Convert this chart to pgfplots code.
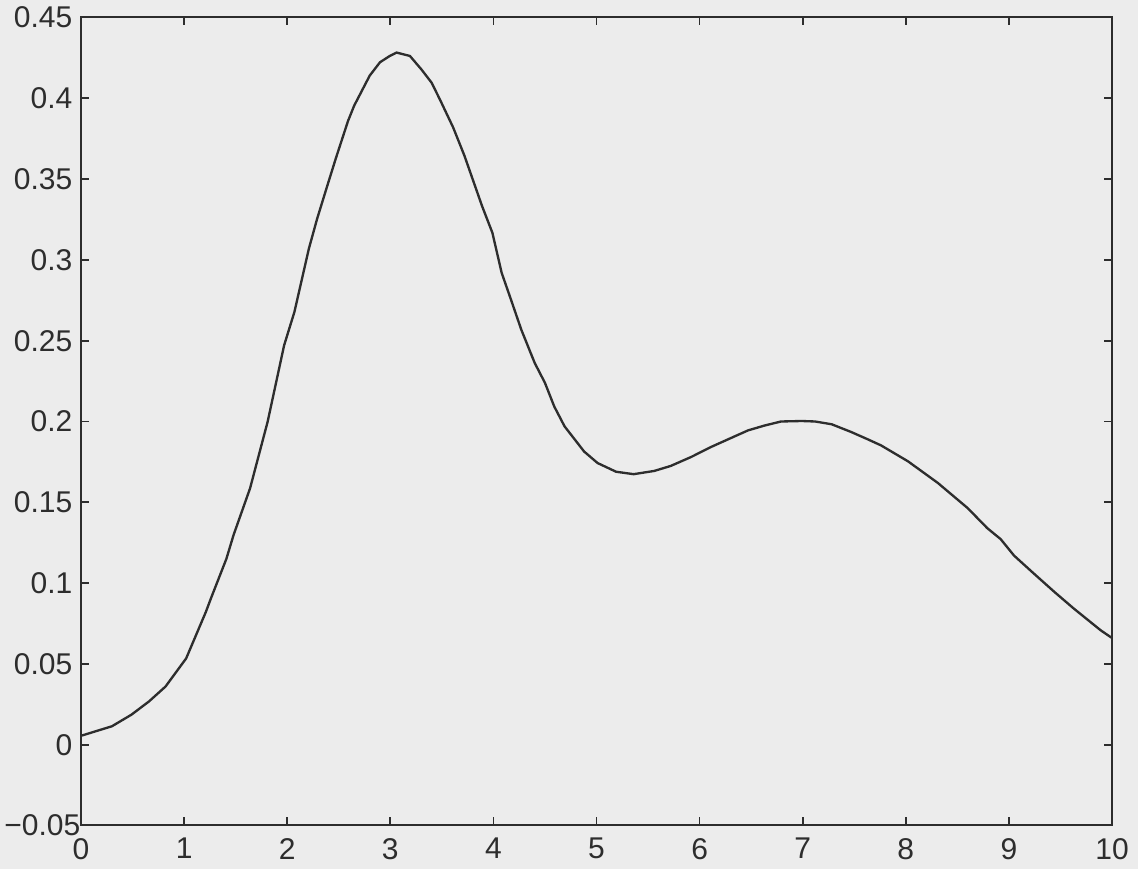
\documentclass[border=0pt]{standalone}
\usepackage{fontspec}
\setmainfont{Liberation Sans}
\usepackage{pgfplots}
\pgfplotsset{compat=1.18}
\usetikzlibrary{backgrounds,calc}

\definecolor{paper}{RGB}{236,236,236}
\definecolor{ink}{RGB}{45,45,45}

\begin{document}
\begin{tikzpicture}
\begin{axis}[
    scale only axis,
    width=309.3pt,
    height=242.4pt,
    xmin=0, xmax=10,
    ymin=-0.05, ymax=0.45,
    xtick={0,1,...,10},
    xticklabels={0,1,2,3,4,5,6,7,8,9,10},
    ytick={-0.05,0,0.05,0.1,0.15,0.2,0.25,0.3,0.35,0.4,0.45},
    yticklabels={−0.05\hspace*{-2.4pt},0,0.05,0.1,0.15,0.2,0.25,0.3,0.35,0.4,0.45},
    tick pos=both,
    tick align=inside,
    major tick length=2.4pt,
    axis line style={ink, line width=0.6pt},
    every tick/.style={ink, line width=0.5pt},
    tick label style={font=\fontsize{9}{10}\selectfont, text=ink, inner sep=0pt},
    yticklabel style={xshift=-2.4pt},
    xticklabel style={yshift=-3.6pt},
    axis background/.style={fill=paper},
]
% curve
\addplot[ink, line width=0.7pt] coordinates {
    (0.00,0.0055)(0.30,0.0114)(0.49,0.0186)(0.66,0.0268)(0.82,0.0360)
    (1.02,0.0534)(1.21,0.0820)(1.26,0.0905)(1.41,0.1150)(1.48,0.1298)
    (1.64,0.1587)(1.81,0.1998)(1.97,0.2471)(2.07,0.2678)(2.21,0.3069)
    (2.29,0.3254)(2.37,0.3420)(2.47,0.3625)(2.59,0.3860)(2.65,0.3955)
    (2.80,0.4140)(2.90,0.4223)(2.99,0.4260)(3.06,0.4283)(3.19,0.4262)
    (3.30,0.4180)(3.40,0.4097)(3.48,0.3994)(3.61,0.3819)(3.72,0.3643)
    (3.89,0.3333)(3.99,0.3168)(4.08,0.2920)(4.17,0.2755)(4.27,0.2569)
    (4.40,0.2363)(4.50,0.2239)(4.59,0.2093)(4.69,0.1970)(4.88,0.1814)
    (5.01,0.1743)(5.19,0.1689)(5.36,0.1674)(5.56,0.1694)(5.72,0.1725)
    (5.92,0.1781)(6.11,0.1842)(6.27,0.1888)(6.47,0.1945)(6.63,0.1975)
    (6.79,0.2000)(6.99,0.2003)(7.12,0.2000)(7.28,0.1983)(7.47,0.1935)
    (7.63,0.1890)(7.76,0.1852)(8.02,0.1754)(8.31,0.1620)(8.60,0.1464)
    (8.79,0.1340)(8.92,0.1272)(9.05,0.1170)(9.24,0.1060)(9.44,0.0946)
    (9.63,0.0842)(9.89,0.0708)(10.00,0.0660)
};
\end{axis}
\begin{scope}[on background layer]
\fill[paper] ($(current axis.south west)+(-24.3pt,-13.2pt)$)
    rectangle ($(current axis.north east)+(7.8pt,5.25pt)$);
\end{scope}
\end{tikzpicture}
\end{document}
